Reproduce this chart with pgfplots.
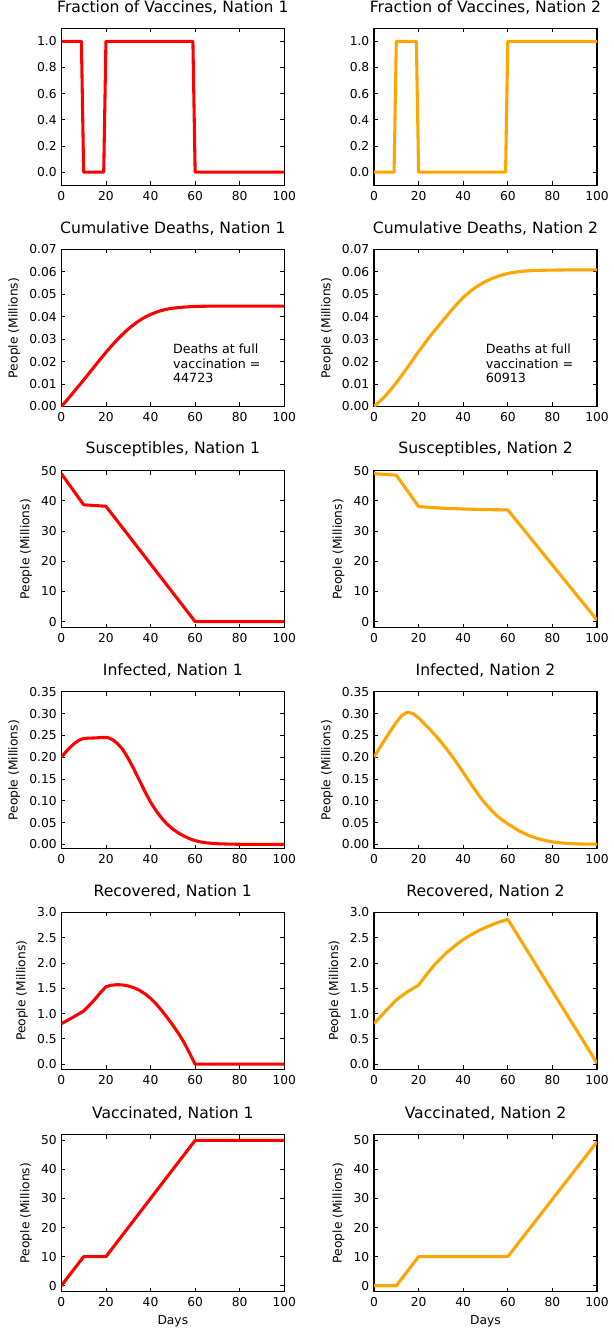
\documentclass[border=0pt]{standalone}
\usepackage{fontspec}
\setmainfont{DejaVu Sans}
\usepackage{pgfplots}
\pgfplotsset{compat=1.18}
\definecolor{orng}{RGB}{255,165,0}
\pgfplotsset{
  myax/.style={
    scale only axis, width=167.25pt, height=117.75pt, anchor=south west,
    xmin=0, xmax=100, xtick={0,20,40,60,80,100},
    tick align=inside, major tick length=3pt,
    tick style={black, line width=0.6pt},
    axis line style={line width=0.9pt},
    title style={at={(0.5,1)}, anchor=south, yshift=1.2pt, font=\fontsize{11.7}{13}\selectfont},
    tick label style={font=\fontsize{9.2}{11}\selectfont},
    label style={font=\fontsize{9.2}{11}\selectfont},
    xticklabel style={yshift=-1pt},
    /pgf/number format/assume math mode=true,
    scaled y ticks=false,
  },
  yp/.style={ylabel={People (Millions)}},
  f1/.style={yticklabel style={/pgf/number format/.cd,fixed,fixed zerofill,precision=1}},
  f2/.style={yticklabel style={/pgf/number format/.cd,fixed,fixed zerofill,precision=2}},
  f0/.style={yticklabel style={/pgf/number format/.cd,fixed,precision=0}},
  n1/.style={color=red, line width=2.3pt, no marks, line join=round},
  n2/.style={color=orng, line width=2.3pt, no marks, line join=round},
}
\begin{document}
\begin{tikzpicture}
\useasboundingbox (0,0) rectangle (460.5pt,1004.25pt);
% Row 1: fraction
\begin{axis}[myax, f1, at={(46pt,865.3pt)}, title={Fraction of Vaccines, Nation 1},
  ymin=-0.1, ymax=1.1, ytick={0,0.2,0.4,0.6,0.8,1.0}]
\addplot[n1] coordinates {(0,1) (9,1) (10,0) (19,0) (20,1) (59,1) (60,0) (100,0)};
\end{axis}
\begin{axis}[myax, f1, at={(280.5pt,865.3pt)}, title={Fraction of Vaccines, Nation 2},
  ymin=-0.1, ymax=1.1, ytick={0,0.2,0.4,0.6,0.8,1.0}]
\addplot[n2] coordinates {(0,0) (9,0) (10,1) (19,1) (20,0) (59,0) (60,1) (100,1)};
\end{axis}
% Row 2: deaths
\begin{axis}[myax, f2, yp, at={(46pt,699.4pt)}, title={Cumulative Deaths, Nation 1},
  ymin=0, ymax=0.07, ytick={0,0.01,0.02,0.03,0.04,0.05,0.06,0.07}]
\addplot[n1, smooth] coordinates {(0,0) (2.5,0.0028) (5,0.0058) (7.5,0.0088) (10,0.0118) (12.5,0.0149) (15,0.0180) (17.5,0.0211) (20,0.0241) (22.5,0.0270) (25,0.0297) (27.5,0.0322) (30,0.0345) (32.5,0.0365) (35,0.0383) (37.5,0.0398) (40,0.0410) (42.5,0.0420) (45,0.0428) (47.5,0.0434) (50,0.0438) (55,0.0443) (60,0.0446) (65,0.0447) (70,0.04472) (100,0.04472)};
\node[anchor=north west, inner sep=0pt, align=left, font=\fontsize{9.5}{10.7}\selectfont] at (axis cs:50,0.0279) {Deaths at full\\vaccination =\\44723};
\end{axis}
\begin{axis}[myax, f2, yp, at={(280.5pt,699.4pt)}, title={Cumulative Deaths, Nation 2},
  ymin=0, ymax=0.07, ytick={0,0.01,0.02,0.03,0.04,0.05,0.06,0.07}]
\addplot[n2, smooth] coordinates {(0,0) (5,0.0046) (10,0.0106) (15,0.0174) (20,0.0245) (25,0.0311) (30,0.0372) (35,0.0432) (40,0.0486) (45,0.0527) (50,0.0557) (55,0.0578) (60,0.0593) (65,0.0601) (70,0.0605) (75,0.0607) (80,0.0608) (90,0.0609) (100,0.0609)};
\node[anchor=north west, inner sep=0pt, align=left, font=\fontsize{9.5}{10.7}\selectfont] at (axis cs:50,0.0279) {Deaths at full\\vaccination =\\60913};
\end{axis}
% Row 3: susceptibles
\begin{axis}[myax, f0, yp, at={(46pt,533.5pt)}, title={Susceptibles, Nation 1},
  ymin=-2, ymax=50, ytick={0,10,20,30,40,50}]
\addplot[n1] coordinates {(0,49) (10,38.7) (20,38.2) (60,0) (100,0)};
\end{axis}
\begin{axis}[myax, f0, yp, at={(280.5pt,533.5pt)}, title={Susceptibles, Nation 2},
  ymin=-2, ymax=50, ytick={0,10,20,30,40,50}]
\addplot[n2] coordinates {(0,49) (10,48.5) (20,38.1) (30,37.6) (40,37.3) (50,37.1) (60,37.0) (100,0.5)};
\end{axis}
% Row 4: infected
\begin{axis}[myax, f2, yp, at={(46pt,367.7pt)}, title={Infected, Nation 1},
  ymin=-0.01, ymax=0.35, ytick={0,0.05,0.10,0.15,0.20,0.25,0.30,0.35}]
\addplot[n1] coordinates {(0,0.200) (2,0.212) (4,0.223) (6,0.232) (8,0.239) (10,0.243) (12,0.2435) (15,0.244) (18,0.245) (20,0.245) (21,0.2445) (23,0.240) (25,0.232) (27.5,0.218) (30,0.197) (32.5,0.173) (35,0.147) (37.5,0.121) (40,0.097) (42.5,0.077) (45,0.060) (47.5,0.046) (50,0.035) (52.5,0.026) (55,0.019) (57.5,0.013) (60,0.0085) (62.5,0.0055) (65,0.0035) (70,0.0014) (75,0.0006) (80,0.0002) (90,0) (100,0)};
\end{axis}
\begin{axis}[myax, f2, yp, at={(280.5pt,367.7pt)}, title={Infected, Nation 2},
  ymin=-0.01, ymax=0.35, ytick={0,0.05,0.10,0.15,0.20,0.25,0.30,0.35}]
\addplot[n2] coordinates {(0,0.200) (2.5,0.221) (5,0.241) (7.5,0.261) (10,0.280) (12.5,0.296) (15,0.303) (17.5,0.300) (20,0.290) (22.5,0.277) (25,0.264) (27.5,0.250) (30,0.235) (32.5,0.219) (35,0.202) (37.5,0.184) (40,0.165) (42.5,0.146) (45,0.127) (47.5,0.109) (50,0.093) (52.5,0.079) (55,0.066) (57.5,0.056) (60,0.047) (62.5,0.039) (65,0.031) (67.5,0.025) (70,0.019) (75,0.011) (80,0.0055) (85,0.0028) (90,0.0013) (95,0.0006) (100,0.0003)};
\end{axis}
% Row 5: recovered
\begin{axis}[myax, f1, yp, at={(46pt,202.3pt)}, title={Recovered, Nation 1},
  ymin=-0.1, ymax=3.0, ytick={0,0.5,1.0,1.5,2.0,2.5,3.0}]
\addplot[n1] coordinates {(0,0.80) (5,0.92) (10,1.05) (12.5,1.16) (15,1.28) (17.5,1.41) (20,1.53) (22.5,1.56) (25,1.57) (27.5,1.565) (30,1.545) (32.5,1.51) (35,1.46) (37.5,1.39) (40,1.30) (42.5,1.19) (45,1.06) (47.5,0.92) (50,0.77) (52.5,0.61) (55,0.43) (57.5,0.22) (60,0) (100,0)};
\end{axis}
\begin{axis}[myax, f1, yp, at={(280.5pt,202.3pt)}, title={Recovered, Nation 2},
  ymin=-0.1, ymax=3.0, ytick={0,0.5,1.0,1.5,2.0,2.5,3.0}]
\addplot[n2] coordinates {(0,0.80) (5,1.04) (10,1.27) (15,1.43) (20,1.56) (22.5,1.71) (25,1.85) (27.5,1.98) (30,2.09) (32.5,2.20) (35,2.29) (37.5,2.38) (40,2.46) (42.5,2.53) (45,2.59) (47.5,2.65) (50,2.70) (55,2.79) (60,2.86) (100,0.02)};
\end{axis}
% Row 6: vaccinated
\begin{axis}[myax, f0, yp, at={(46pt,35.6pt)}, title={Vaccinated, Nation 1}, xlabel={Days},
  ymin=-2, ymax=52, ytick={0,10,20,30,40,50}]
\addplot[n1] coordinates {(0,0) (10,10) (20,10) (60,50) (100,50)};
\end{axis}
\begin{axis}[myax, f0, yp, at={(280.5pt,35.6pt)}, title={Vaccinated, Nation 2}, xlabel={Days},
  ymin=-2, ymax=52, ytick={0,10,20,30,40,50}]
\addplot[n2] coordinates {(0,0) (10,0) (20,10) (60,10) (100,49.5)};
\end{axis}
\end{tikzpicture}
\end{document}
